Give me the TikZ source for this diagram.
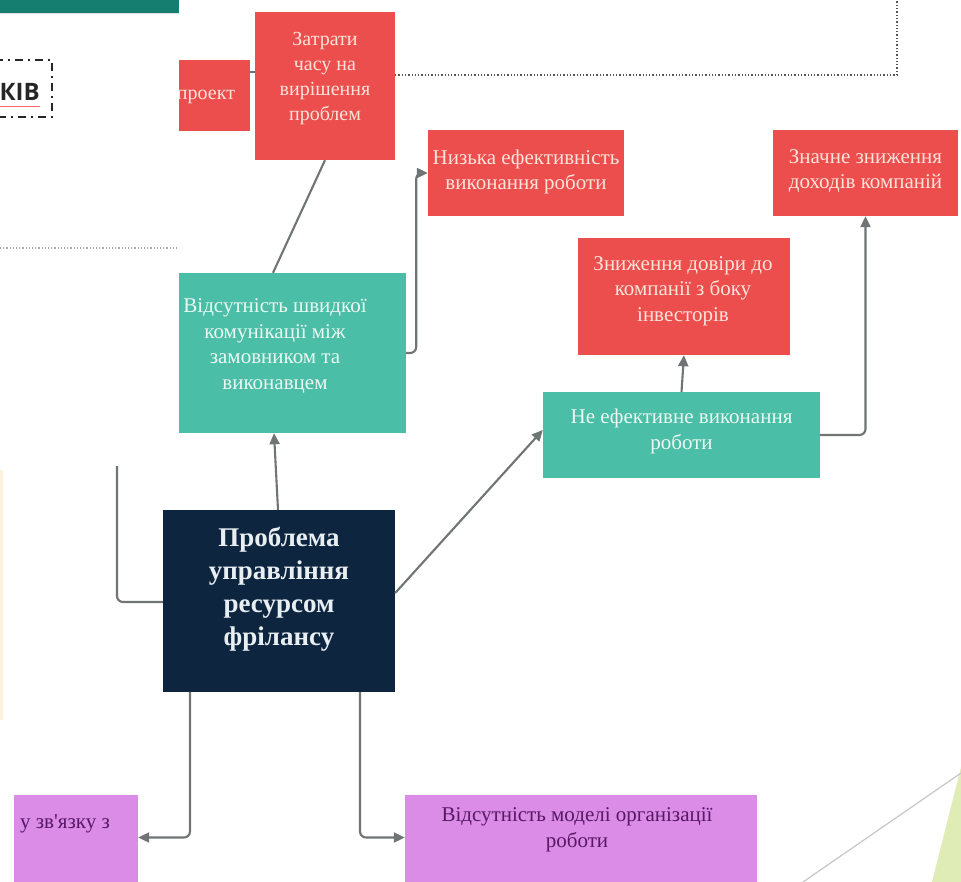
\documentclass[tikz,border=0pt]{standalone}
\usepackage{fontspec}
\setmainfont{Liberation Serif}
\newfontfamily\kivfont{Open Sans}
\usetikzlibrary{arrows.meta,calc}
\definecolor{redb}{RGB}{236,77,77}
\definecolor{redt}{RGB}{252,228,218}
\definecolor{tealb}{RGB}{74,190,166}
\definecolor{tealt}{RGB}{236,248,242}
\definecolor{navyb}{RGB}{13,37,62}
\definecolor{navyt}{RGB}{232,238,242}
\definecolor{purb}{RGB}{218,140,230}
\definecolor{purt}{RGB}{88,24,100}
\definecolor{connc}{RGB}{112,116,116}
\definecolor{barc}{RGB}{22,126,112}
\definecolor{dotc}{RGB}{85,85,85}
\definecolor{greenc}{RGB}{224,236,182}
\begin{document}
\begin{tikzpicture}[x=1pt,y=-1pt,
  box/.style={rectangle, inner sep=0pt, draw=none},
  redbox/.style={box, fill=redb},
  tealbox/.style={box, fill=tealb},
  purbox/.style={box, fill=purb},
  txt/.style={inner sep=0pt, align=center, font=\fontsize{21}{25.5}\selectfont},
  redtxt/.style={txt, text=redt},
  tealtxt/.style={txt, text=tealt},
  purtxt/.style={txt, text=purt},
  conn/.style={draw=connc, line width=2.1pt, rounded corners=6pt},
  arr/.style={conn, -{Triangle[length=11pt,width=10pt]}}
]
\useasboundingbox (0,0) rectangle (961,882);
\clip (0,0) rectangle (961,882);
\fill[white] (0,0) rectangle (961,882);

% top dotted frame
\draw[dotc, dotted, line width=1.3pt] (395,75) -- (897,75) -- (897,0);

% red boxes
\node[redbox, minimum width=100, minimum height=71] (proj) at (200,95.5) {};
\node[redtxt, font=\fontsize{20}{25.5}\selectfont] (projt) at (206,97) {проект};
\node[redbox, minimum width=140, minimum height=148] (zat) at (325,86) {};
\node[redtxt, font=\fontsize{20}{25}\selectfont] (zatt) at (325,79) {Затрати\\часу на\\вирішення\\проблем};
\node[redbox, minimum width=196, minimum height=86] (nyz) at (526,173) {};
\node[redtxt] (nyzt) at (526,172) {Низька ефективність\\виконання роботи};
\node[redbox, minimum width=185, minimum height=86] (zna) at (865.5,173) {};
\node[redtxt] (znat) at (865.5,171) {Значне зниження\\доходів компаній};
\node[redbox, minimum width=212, minimum height=117] (zn) at (684,296.5) {};
\node[redtxt] (znt) at (683,291) {Зниження довіри до\\компанії з боку\\інвесторів};

% teal boxes
\node[tealbox, minimum width=260, minimum height=160] (vid) at (276,353) {};
\node[tealtxt] (vidt) at (275,346) {Відсутність швидкої\\комунікації між\\замовником та\\виконавцем};
\node[tealbox, minimum width=277, minimum height=86] (ne) at (681.5,435) {};
\node[tealtxt] (net) at (681.5,431.5) {Не ефективне виконання\\роботи};

% central box
\node[box, fill=navyb, minimum width=232, minimum height=182] (prob) at (279,601) {};
\node[txt, text=navyt, font=\fontsize{27}{33}\selectfont\bfseries] (probt) at (279,589) {Проблема\\управління\\ресурсом\\фрілансу};

% purple boxes
\node[purbox, minimum width=124, minimum height=105] (pur1) at (76,847.5) {};
\node[purtxt, anchor=west] (pur1t) at (20,824) {у зв\textquotesingle язку з};
\node[purbox, minimum width=352, minimum height=105] (pur2) at (581,847.5) {};
\node[purtxt] (pur2t) at (577,830) {Відсутність моделі організації\\роботи};

% connectors
\draw[conn] ([yshift=23.5]proj.east) -- ([yshift=14]zat.west);
\draw[conn] (zat.south) -- ([xshift=-3]vid.north);
\draw[arr] (vid.east) -- ++(10,0) |- (nyz.west);
\draw[arr] ([xshift=-1]prob.north) -- ([xshift=-2]vid.south);
\draw[arr] ([yshift=8]prob.east) -- ([yshift=5]ne.west);
\draw[arr] (ne.north) -- (zn.south);
\draw[arr] (ne.east) -| (zna.south);
\coordinate (lfree) at (117,466);
\draw[conn] (lfree) |- ([yshift=-1]prob.west);
\draw[arr] ([xshift=-89]prob.south) |- ([yshift=10]pur1.east);
\draw[arr] ([xshift=81]prob.south) |- ([yshift=10]pur2.west);

% left overlay panel
\fill[white] (0,13) rectangle (179,466);
\fill[barc] (0,0) rectangle (179,13);
\draw[black!12, line width=1pt] (0,14) -- (179,14);
\draw[black!35, dotted, line width=1.2pt] (0,248) -- (178,248);
\draw[black!85, line width=1.6pt, dash pattern=on 8pt off 5pt on 2pt off 5pt] (-5,60) -- (52,60) -- (52,117) -- (-5,117);
\node[inner sep=0pt, anchor=base east, font=\kivfont\bfseries\fontsize{24}{24}\selectfont, text=black!85] (kiv) at (40,101) {КІВ};
\draw[red!60, line width=0.6pt] (0,106) -- (40,106);
\draw[orange!12, line width=3pt] (1.5,470) -- (1.5,720);

% bottom-right decoration
\fill[greenc] (932,882) -- (961,767) -- (961,882) -- cycle;
\draw[black!22, line width=1.2pt] (803,882) -- (961,773);
\end{tikzpicture}
\end{document}
